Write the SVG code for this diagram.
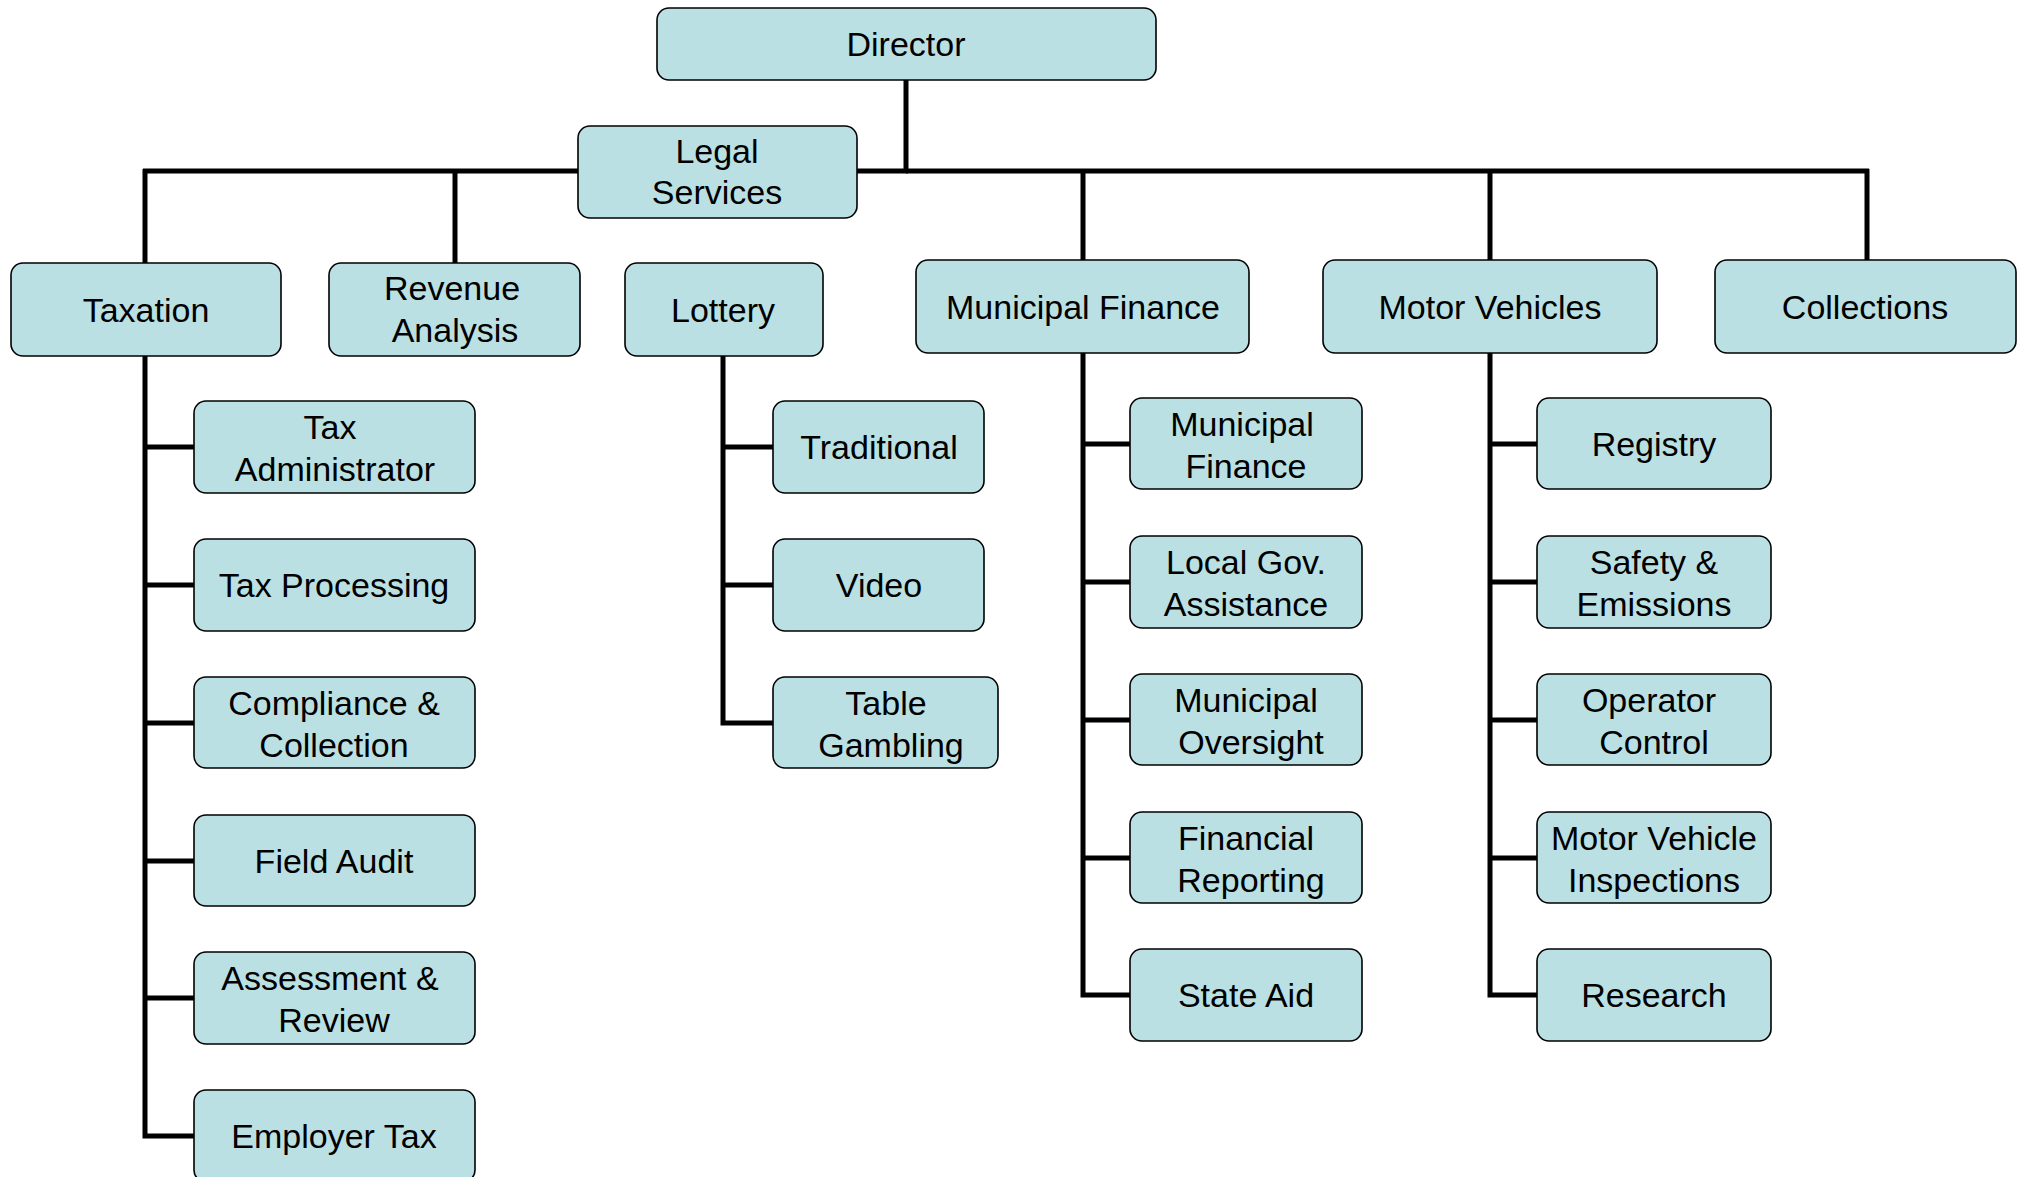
<svg xmlns="http://www.w3.org/2000/svg" width="2028" height="1177" viewBox="0 0 2028 1177">
<style>
.box{fill:#BBE0E3;stroke:#000;stroke-width:1.6}
.t{font-family:"Liberation Sans",Arial,sans-serif;font-size:34px;fill:#000;text-anchor:middle}
.c{fill:none;stroke:#000;stroke-width:5;stroke-linecap:butt}
</style>
<rect width="2028" height="1177" fill="#fff"/>
<g id="connectors" class="c">
<path d="M906,80 V171"/>
<path d="M143,171 H908"/>
<path d="M906,171 H1869"/>
<path d="M145,169 V263"/>
<path d="M455,169 V263"/>
<path d="M1083,169 V260"/>
<path d="M1490,169 V260"/>
<path d="M1867,169 V260"/>
<path d="M145,356 V1136 H194"/>
<path d="M145,447 H194 M145,585 H194 M145,723 H194 M145,861 H194 M145,998 H194"/>
<path d="M723,356 V723 H773"/>
<path d="M723,447 H773 M723,585 H773"/>
<path d="M1083,353 V995 H1130"/>
<path d="M1083,444 H1130 M1083,582 H1130 M1083,720 H1130 M1083,858 H1130"/>
<path d="M1490,353 V995 H1537"/>
<path d="M1490,444 H1537 M1490,582 H1537 M1490,720 H1537 M1490,858 H1537"/>
</g>
<g id="director"><rect class="box" x="657" y="8" width="499" height="72" rx="12"/><text class="t" x="906" y="56">Director</text></g>
<g id="legal"><rect class="box" x="578" y="126" width="279" height="92" rx="12"/><text class="t" x="717" y="163">Legal</text><text class="t" x="717" y="204">Services</text></g>
<g id="taxation"><rect class="box" x="11" y="263" width="270" height="93" rx="12"/><text class="t" x="146" y="322">Taxation</text></g>
<g id="revenue"><rect class="box" x="329" y="263" width="251" height="93" rx="12"/><text class="t" x="452" y="300">Revenue</text><text class="t" x="455" y="342">Analysis</text></g>
<g id="lottery"><rect class="box" x="625" y="263" width="198" height="93" rx="12"/><text class="t" x="723" y="322">Lottery</text></g>
<g id="munfin"><rect class="box" x="916" y="260" width="333" height="93" rx="12"/><text class="t" x="1083" y="319">Municipal Finance</text></g>
<g id="motor"><rect class="box" x="1323" y="260" width="334" height="93" rx="12"/><text class="t" x="1490" y="319">Motor Vehicles</text></g>
<g id="collections"><rect class="box" x="1715" y="260" width="301" height="93" rx="12"/><text class="t" x="1865" y="319">Collections</text></g>
<g id="taxadmin"><rect class="box" x="194" y="401" width="281" height="92" rx="12"/><text class="t" x="330" y="439">Tax</text><text class="t" x="335" y="481">Administrator</text></g>
<g id="taxproc"><rect class="box" x="194" y="539" width="281" height="92" rx="12"/><text class="t" x="334" y="597">Tax Processing</text></g>
<g id="compliance"><rect class="box" x="194" y="677" width="281" height="91" rx="12"/><text class="t" x="334" y="715">Compliance &amp;</text><text class="t" x="334" y="757">Collection</text></g>
<g id="fieldaudit"><rect class="box" x="194" y="815" width="281" height="91" rx="12"/><text class="t" x="334" y="873">Field Audit</text></g>
<g id="assessment"><rect class="box" x="194" y="952" width="281" height="92" rx="12"/><text class="t" x="330" y="990">Assessment &amp;</text><text class="t" x="334" y="1032">Review</text></g>
<g id="employer"><rect class="box" x="194" y="1090" width="281" height="92" rx="12"/><text class="t" x="334" y="1148">Employer Tax</text></g>
<g id="traditional"><rect class="box" x="773" y="401" width="211" height="92" rx="12"/><text class="t" x="879" y="459">Traditional</text></g>
<g id="video"><rect class="box" x="773" y="539" width="211" height="92" rx="12"/><text class="t" x="879" y="597">Video</text></g>
<g id="table"><rect class="box" x="773" y="677" width="225" height="91" rx="12"/><text class="t" x="886" y="715">Table</text><text class="t" x="891" y="757">Gambling</text></g>
<g id="mf-mf"><rect class="box" x="1130" y="398" width="232" height="91" rx="12"/><text class="t" x="1242" y="436">Municipal</text><text class="t" x="1246" y="478">Finance</text></g>
<g id="localgov"><rect class="box" x="1130" y="536" width="232" height="92" rx="12"/><text class="t" x="1246" y="574">Local Gov.</text><text class="t" x="1246" y="616">Assistance</text></g>
<g id="oversight"><rect class="box" x="1130" y="674" width="232" height="91" rx="12"/><text class="t" x="1246" y="712">Municipal</text><text class="t" x="1251" y="754">Oversight</text></g>
<g id="finrep"><rect class="box" x="1130" y="812" width="232" height="91" rx="12"/><text class="t" x="1246" y="850">Financial</text><text class="t" x="1251" y="892">Reporting</text></g>
<g id="stateaid"><rect class="box" x="1130" y="949" width="232" height="92" rx="12"/><text class="t" x="1246" y="1007">State Aid</text></g>
<g id="registry"><rect class="box" x="1537" y="398" width="234" height="91" rx="12"/><text class="t" x="1654" y="456">Registry</text></g>
<g id="safety"><rect class="box" x="1537" y="536" width="234" height="92" rx="12"/><text class="t" x="1654" y="574">Safety &amp;</text><text class="t" x="1654" y="616">Emissions</text></g>
<g id="operator"><rect class="box" x="1537" y="674" width="234" height="91" rx="12"/><text class="t" x="1649" y="712">Operator</text><text class="t" x="1654" y="754">Control</text></g>
<g id="mvi"><rect class="box" x="1537" y="812" width="234" height="91" rx="12"/><text class="t" x="1654" y="850">Motor Vehicle</text><text class="t" x="1654" y="892">Inspections</text></g>
<g id="research"><rect class="box" x="1537" y="949" width="234" height="92" rx="12"/><text class="t" x="1654" y="1007">Research</text></g>
</svg>
